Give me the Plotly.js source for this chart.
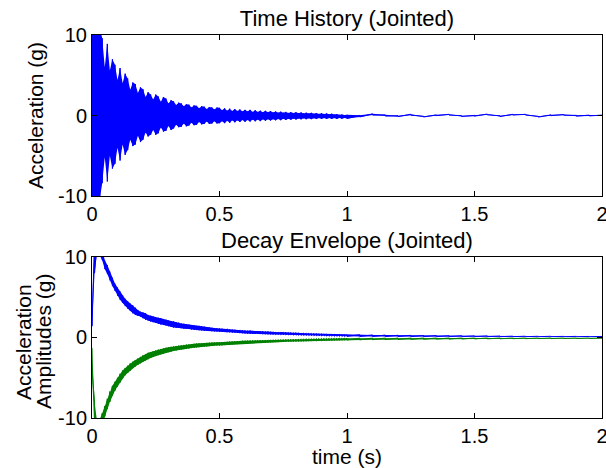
<!DOCTYPE html>
<html>
<head>
<meta charset="utf-8">
<script src="https://cdn.plot.ly/plotly-3.0.1.min.js"></script>
<style>
  html, body { margin: 0; padding: 0; background: #fff; }
  #chart { width: 606px; height: 468px; }
</style>
</head>
<body>
<div id="chart"></div>
<script>
// Sample times (s)
const T = [
  0, 0.01, 0.02, 0.03, 0.04, 0.05, 0.06, 0.07, 0.08, 0.09,
  0.1, 0.11, 0.12, 0.13, 0.14, 0.15, 0.16, 0.17, 0.18, 0.19,
  0.2, 0.21, 0.22, 0.23, 0.24, 0.25, 0.26, 0.27, 0.28, 0.29,
  0.3, 0.31, 0.32, 0.33, 0.34, 0.35, 0.36, 0.37, 0.38, 0.39,
  0.4, 0.41, 0.42, 0.43, 0.44, 0.45, 0.46, 0.47, 0.48, 0.49,
  0.5, 0.51, 0.52, 0.53, 0.54, 0.55, 0.56, 0.57, 0.58, 0.59,
  0.6, 0.61, 0.62, 0.63, 0.64, 0.65, 0.66, 0.67, 0.68, 0.69,
  0.7, 0.71, 0.72, 0.73, 0.74, 0.75, 0.76, 0.77, 0.78, 0.79,
  0.8, 0.81, 0.82, 0.83, 0.84, 0.85, 0.86, 0.87, 0.88, 0.89,
  0.9, 0.91, 0.92, 0.93, 0.94, 0.95, 0.96, 0.97, 0.98, 0.99,
  1,
  1.05, 1.1, 1.15, 1.2, 1.25, 1.3, 1.35, 1.4, 1.45, 1.5,
  1.55, 1.6, 1.65, 1.7, 1.75, 1.8, 1.85, 1.9, 1.95, 2
];

// Time history: positive and negative swing of each oscillation (g)
const historyPeak = [
  14, 12, 13, 11, 9.6, 6.0, 8.9, 5.6, 7.0, 6.3,
  4.4, 5.9, 4.0, 5.2, 4.6, 3.2, 4.1, 3.9, 2.8, 3.5,
  3.25, 2.3, 2.9, 2.6, 2.0, 2.6, 2.35, 1.7, 2.3, 2.1,
  1.5, 1.9, 1.75, 1.3, 1.6, 1.5, 1.15, 1.4, 1.35, 1.0,
  1.25, 1.2, 0.9, 1.15, 1.1, 0.8, 1.05, 1.0, 0.75, 0.98,
  0.95, 0.65, 0.9, 0.6, 0.85, 0.55, 0.8, 0.55, 0.75, 0.5,
  0.7, 0.5, 0.7, 0.45, 0.65, 0.45, 0.6, 0.4, 0.58, 0.4,
  0.55, 0.38, 0.5, 0.35, 0.48, 0.35, 0.45, 0.32, 0.42, 0.3,
  0.4, 0.28, 0.38, 0.26, 0.35, 0.25, 0.33, 0.22, 0.3, 0.2,
  0.28, 0.18, 0.26, 0.15, 0.22, 0.12, 0.18, 0.08, 0.12, 0.05,
  0.08,
  0.02, 0.21, 0.07, -0.02, 0.16, -0.09, 0.08, 0.15, -0.02, 0.02,
  0.18, -0.03, 0.15, 0.15, -0.1, 0.08, 0.13, 0.02, 0.05, 0.05
];
const historyTrough = [
  -13, -12, -11, -10.5, -8.4, -5.2, -8.2, -5.0, -6.6, -6.0,
  -4.0, -5.6, -3.6, -4.9, -4.3, -3.0, -3.8, -3.6, -2.5, -3.3,
  -3.0, -2.1, -2.6, -2.4, -1.8, -2.4, -2.2, -1.5, -2.0, -1.9,
  -1.3, -1.8, -1.6, -1.15, -1.45, -1.4, -1.0, -1.35, -1.25, -0.9,
  -1.2, -1.15, -0.8, -1.1, -1.05, -0.75, -1.05, -1.0, -0.7, -0.98,
  -0.95, -0.7, -0.95, -0.65, -0.9, -0.6, -0.85, -0.6, -0.8, -0.55,
  -0.78, -0.55, -0.75, -0.5, -0.72, -0.5, -0.7, -0.48, -0.65, -0.45,
  -0.62, -0.45, -0.6, -0.42, -0.58, -0.4, -0.55, -0.4, -0.52, -0.38,
  -0.5, -0.36, -0.48, -0.35, -0.46, -0.34, -0.45, -0.33, -0.44, -0.32,
  -0.43, -0.32, -0.42, -0.32, -0.42, -0.32, -0.42, -0.3, -0.4, -0.3,
  -0.38,
  -0.18, 0.05, -0.07, -0.14, 0.04, -0.19, -0.02, 0.05, -0.12, -0.08,
  0.08, -0.13, 0.05, 0.05, -0.2, -0.02, 0.03, -0.08, -0.05, -0.05
];

// Decay envelope, upper (positive) amplitudes: band top and bottom (g)
const upperTop = [
  3.6, 12, 12, 12, 11, 9.6, 9.0, 8.2, 7.4, 6.7,
  6.2, 5.7, 5.2, 4.8, 4.5, 4.2, 4.0, 3.7, 3.4, 3.2,
  3.1, 3.0, 2.8, 2.7, 2.6, 2.5, 2.45, 2.4, 2.3, 2.2,
  2.1, 2.05, 2.0, 1.9, 1.85, 1.75, 1.7, 1.65, 1.6, 1.55,
  1.5, 1.45, 1.45, 1.4, 1.35, 1.3, 1.25, 1.2, 1.18, 1.15,
  1.12, 1.1, 1.06, 1.08, 1.0, 0.98, 0.97, 0.93, 0.94, 0.89,
  0.88, 0.85, 0.86, 0.81, 0.8, 0.81, 0.77, 0.78, 0.74, 0.75,
  0.71, 0.7, 0.69, 0.66, 0.67, 0.64, 0.65, 0.62, 0.62, 0.59,
  0.6, 0.57, 0.56, 0.55, 0.53, 0.54, 0.51, 0.5, 0.49, 0.46,
  0.46, 0.44, 0.43, 0.42, 0.41, 0.4, 0.39, 0.38, 0.37, 0.36,
  0.35,
  0.35, 0.32, 0.3, 0.28, 0.27, 0.25, 0.24, 0.22, 0.22, 0.2,
  0.2, 0.18, 0.17, 0.16, 0.15, 0.15, 0.14, 0.14, 0.13, 0.13
];
const upperBottom = [
  1.4, 8, 10.5, 10.2, 9.6, 8.5, 7.9, 7.1, 6.4, 5.8,
  5.2, 4.7, 4.3, 3.9, 3.6, 3.3, 3.0, 2.8, 2.7, 2.6,
  2.4, 2.2, 2.1, 2.0, 1.9, 1.8, 1.7, 1.6, 1.55, 1.5,
  1.4, 1.35, 1.25, 1.2, 1.2, 1.15, 1.1, 1.1, 1.05, 1.0,
  0.95, 0.92, 0.9, 0.88, 0.85, 0.82, 0.8, 0.78, 0.76, 0.75,
  0.72, 0.7, 0.68, 0.66, 0.64, 0.6, 0.58, 0.56, 0.54, 0.52,
  0.5, 0.48, 0.47, 0.45, 0.44, 0.43, 0.42, 0.41, 0.4, 0.39,
  0.38, 0.37, 0.36, 0.35, 0.34, 0.33, 0.32, 0.31, 0.3, 0.29,
  0.28, 0.27, 0.26, 0.25, 0.25, 0.24, 0.23, 0.22, 0.21, 0.2,
  0.19, 0.18, 0.17, 0.16, 0.16, 0.15, 0.15, 0.14, 0.14, 0.13,
  0.13,
  0.12, 0.12, 0.11, 0.11, 0.1, 0.1, 0.1, 0.1, 0.1, 0.1,
  0.1, 0.1, 0.1, 0.1, 0.1, 0.1, 0.1, 0.1, 0.1, 0.1
];

// Decay envelope, lower (negative) amplitudes: band top and bottom (g)
const lowerTop = [
  -1.3, -8, -10.5, -10.2, -9.4, -8.5, -7.6, -6.7, -6.0, -5.5,
  -5.0, -4.5, -4.1, -3.8, -3.5, -3.2, -3.0, -2.8, -2.6, -2.4,
  -2.2, -2.05, -1.9, -1.8, -1.7, -1.6, -1.5, -1.42, -1.35, -1.28,
  -1.2, -1.15, -1.1, -1.05, -1.0, -0.96, -0.92, -0.88, -0.85, -0.82,
  -0.78, -0.75, -0.72, -0.7, -0.68, -0.66, -0.64, -0.62, -0.61, -0.6,
  -0.59, -0.58, -0.55, -0.52, -0.5, -0.48, -0.46, -0.44, -0.42, -0.4,
  -0.39, -0.38, -0.37, -0.36, -0.35, -0.34, -0.33, -0.32, -0.31, -0.3,
  -0.29, -0.28, -0.27, -0.26, -0.25, -0.24, -0.23, -0.22, -0.21, -0.2,
  -0.19, -0.18, -0.17, -0.16, -0.15, -0.15, -0.14, -0.13, -0.12, -0.12,
  -0.11, -0.1, -0.1, -0.1, -0.09, -0.09, -0.09, -0.08, -0.08, -0.08,
  -0.08,
  -0.08, -0.07, -0.07, -0.07, -0.07, -0.06, -0.06, -0.06, -0.06, -0.06,
  -0.06, -0.06, -0.06, -0.06, -0.06, -0.06, -0.06, -0.06, -0.06, -0.06
];
const lowerBottom = [
  -4.2, -12, -12, -12, -11, -9.8, -8.9, -8.0, -7.2, -6.6,
  -6.1, -5.6, -5.1, -4.7, -4.4, -4.1, -3.8, -3.6, -3.4, -3.2,
  -3.0, -2.85, -2.7, -2.55, -2.4, -2.3, -2.2, -2.1, -2.0, -1.9,
  -1.82, -1.75, -1.68, -1.62, -1.55, -1.5, -1.45, -1.4, -1.36, -1.32,
  -1.28, -1.24, -1.2, -1.17, -1.14, -1.11, -1.08, -1.05, -1.02, -1.0,
  -1.0, -0.98, -0.95, -0.92, -0.9, -0.87, -0.84, -0.82, -0.8, -0.78,
  -0.76, -0.74, -0.72, -0.7, -0.68, -0.67, -0.66, -0.64, -0.62, -0.61,
  -0.6, -0.59, -0.58, -0.57, -0.56, -0.55, -0.54, -0.53, -0.52, -0.51,
  -0.5, -0.5, -0.49, -0.48, -0.47, -0.46, -0.45, -0.44, -0.43, -0.42,
  -0.41, -0.4, -0.39, -0.38, -0.37, -0.36, -0.35, -0.34, -0.33, -0.32,
  -0.31,
  -0.3, -0.28, -0.27, -0.25, -0.24, -0.22, -0.21, -0.2, -0.19, -0.18,
  -0.17, -0.16, -0.15, -0.15, -0.14, -0.14, -0.13, -0.13, -0.12, -0.12
];

// Axis ticks
const timeTicks = [0, 0.5, 1, 1.5, 2];
const timeTickText = ['0', '0.5', '1', '1.5', '2'];
const accTicks = [-10, 0, 10];
const accTickText = ['-10', '0', '10'];

// Each sample is drawn as a stroke from its high value to its low value,
// chained one after another, giving the dense oscillating trace.
function strokes(t, hi, lo) {
  const x = [], y = [];
  for (let i = 0; i < t.length; i++) {
    x.push(t[i], t[i]);
    y.push(hi[i], lo[i]);
  }
  return { x, y };
}

const BLUE = '#0000ff';
const GREEN = '#008000';

// Solid body between the high and low values, with the strokes laid over it
function band(t, hi, lo, color, xa, ya) {
  const s = strokes(t, hi, lo);
  return [
    { x: t, y: lo, xaxis: xa, yaxis: ya, type: 'scatter', mode: 'lines',
      line: { width: 0, color: color }, hoverinfo: 'skip' },
    { x: t, y: hi, xaxis: xa, yaxis: ya, type: 'scatter', mode: 'lines',
      line: { width: 0, color: color }, fill: 'tonexty', fillcolor: color, hoverinfo: 'skip' },
    { x: s.x, y: s.y, xaxis: xa, yaxis: ya, type: 'scatter', mode: 'lines',
      line: { color: color, width: 1 }, hoverinfo: 'skip' }
  ];
}

const traces = []
  .concat(band(T, historyPeak, historyTrough, BLUE, 'x', 'y'))
  .concat(band(T, upperTop, upperBottom, BLUE, 'x2', 'y2'))
  .concat(band(T, lowerTop, lowerBottom, GREEN, 'x2', 'y2'));

const FONT = 'Liberation Sans, Arial, Helvetica, sans-serif';

const axisStyle = {
  showline: true, mirror: 'ticks', linecolor: '#000', linewidth: 1,
  ticks: 'inside', ticklen: 5, tickcolor: '#000', tickwidth: 1,
  showgrid: false, zeroline: false, fixedrange: true,
  ticklabeloverflow: 'allow',
  tickfont: { family: FONT, size: 20, color: '#000' }
};

const layout = {
  width: 606, height: 468,
  margin: { l: 92, r: 4, t: 35, b: 50 },
  paper_bgcolor: '#fff', plot_bgcolor: '#fff',
  showlegend: false,
  font: { family: FONT, size: 20, color: '#000' },
  title: {
    text: 'Time History (Jointed)',
    font: { family: FONT, size: 22, color: '#000' },
    x: 347 / 606, xanchor: 'center', xref: 'container',
    y: 1 - 18 / 468, yanchor: 'middle', yref: 'container'
  },
  xaxis: Object.assign({}, axisStyle, {
    domain: [0, 1], anchor: 'y', range: [0, 2],
    tickmode: 'array', tickvals: timeTicks, ticktext: timeTickText
  }),
  yaxis: Object.assign({}, axisStyle, {
    domain: [0.5796, 1], anchor: 'x', range: [-10, 10],
    tickmode: 'array', tickvals: accTicks, ticktext: accTickText,
    title: { text: 'Acceleration (g)', standoff: 8, font: { family: FONT, size: 21, color: '#000' } }
  }),
  xaxis2: Object.assign({}, axisStyle, {
    domain: [0, 1], anchor: 'y2', range: [0, 2],
    tickmode: 'array', tickvals: timeTicks, ticktext: timeTickText,
    title: { text: 'time (s)', standoff: 2, font: { family: FONT, size: 21, color: '#000' } }
  }),
  yaxis2: Object.assign({}, axisStyle, {
    domain: [0, 0.4204], anchor: 'x2', range: [-10, 10],
    tickmode: 'array', tickvals: accTicks, ticktext: accTickText
  }),
  annotations: [
    { text: 'Decay Envelope (Jointed)', xref: 'paper', yref: 'paper',
      x: 0.5, y: (418 - 240) / 383, xanchor: 'center', yanchor: 'middle',
      showarrow: false, font: { family: FONT, size: 22, color: '#000' } },
    { text: 'Acceleration', xref: 'paper', yref: 'paper', textangle: -90,
      x: (23 - 92) / 510, y: (418 - 342) / 383, xanchor: 'center', yanchor: 'middle',
      showarrow: false, font: { family: FONT, size: 21, color: '#000' } },
    { text: 'Amplitudes (g)', xref: 'paper', yref: 'paper', textangle: -90,
      x: (43 - 92) / 510, y: (418 - 342) / 383, xanchor: 'center', yanchor: 'middle',
      showarrow: false, font: { family: FONT, size: 21, color: '#000' } }
  ]
};

Plotly.newPlot('chart', traces, layout, { staticPlot: true, displayModeBar: false });
</script>
</body>
</html>
